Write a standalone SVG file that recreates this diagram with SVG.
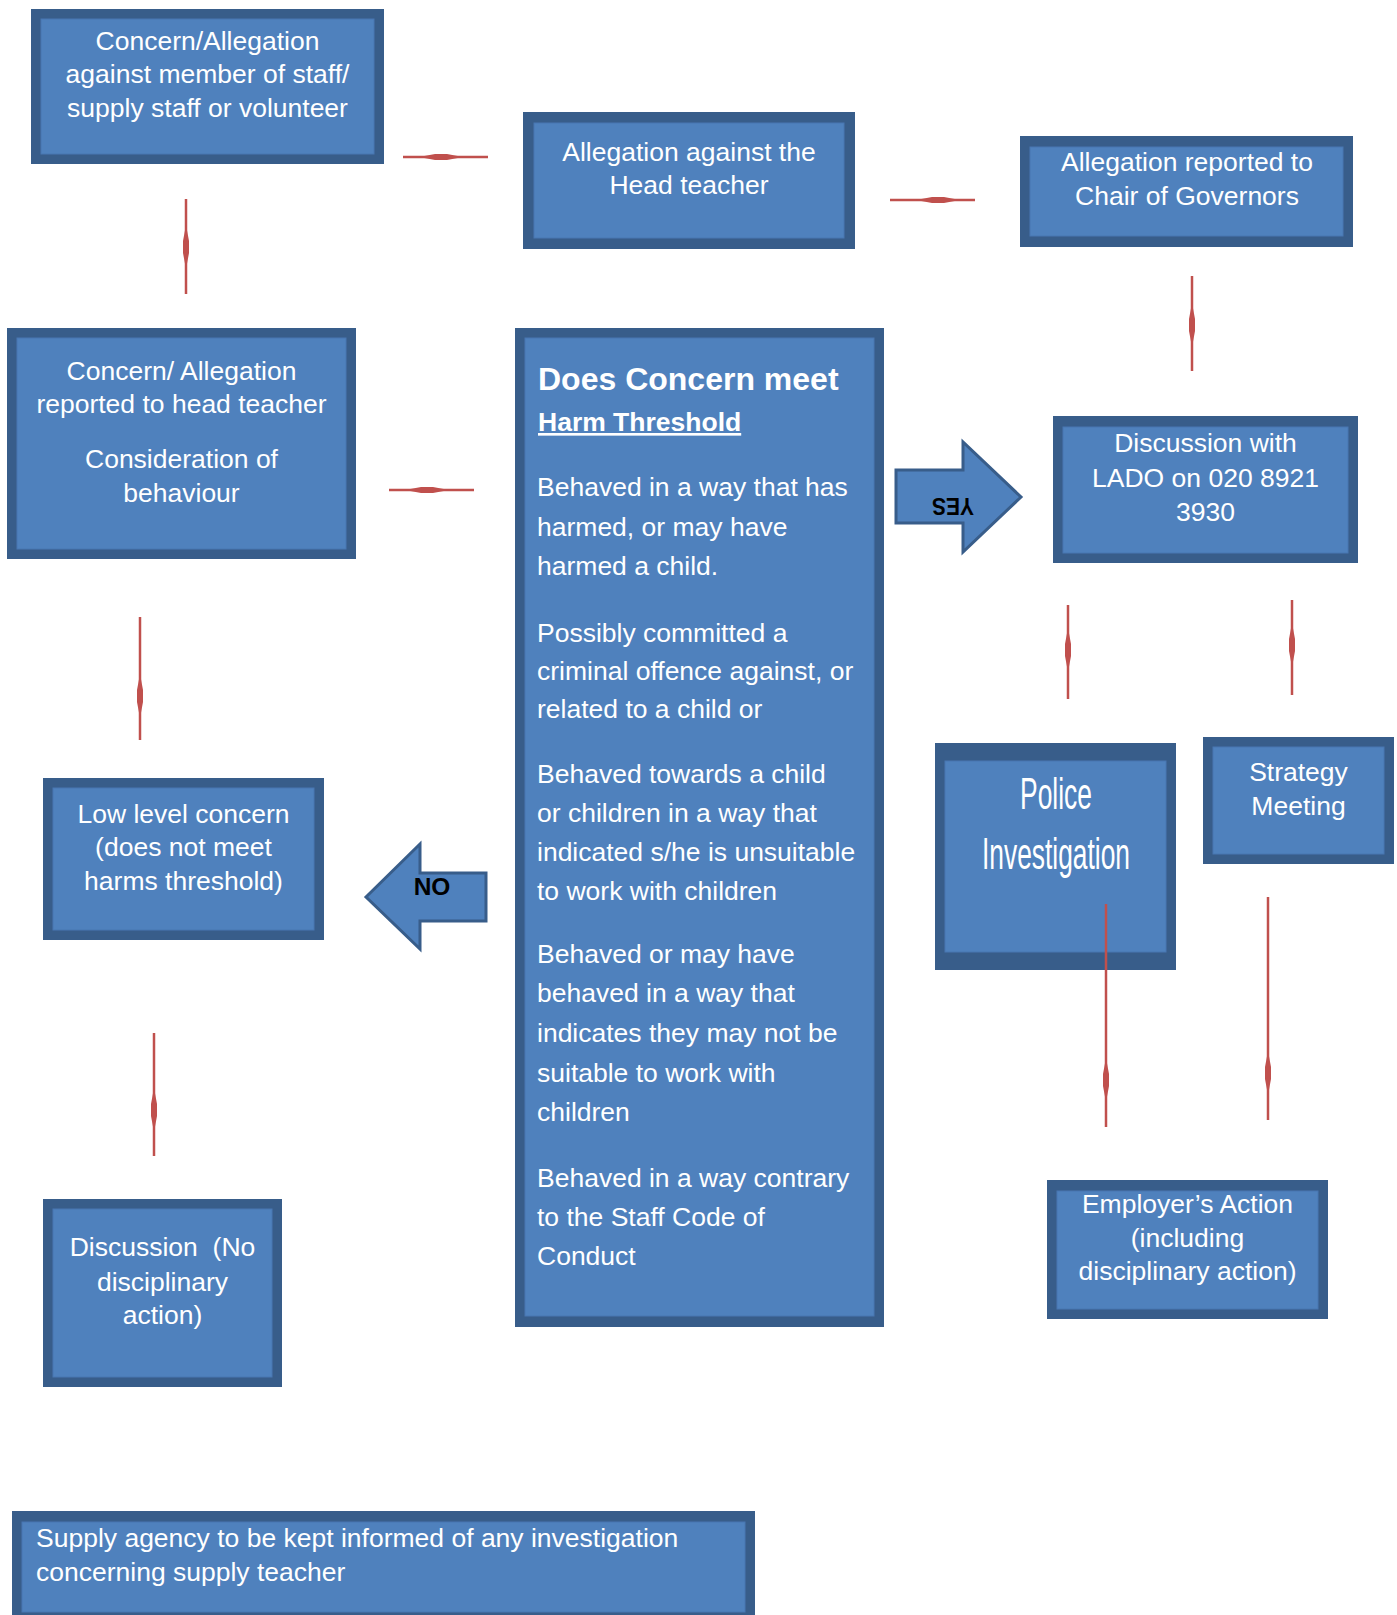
<svg xmlns="http://www.w3.org/2000/svg" width="1397" height="1615" viewBox="0 0 1397 1615">
<style>
.outer{fill:#385D8A}
.inner{fill:#4F81BD;stroke:#4877B1;stroke-width:1}
.t{font-family:"Liberation Sans",Arial,sans-serif;font-size:26.5px;fill:#FFFFFF;text-anchor:middle}
.big{font-size:45px}
.tl{font-family:"Liberation Sans",Arial,sans-serif;font-size:26.5px;fill:#FFFFFF}
.hd{font-family:"Liberation Sans",Arial,sans-serif;font-weight:bold;fill:#FFFFFF}
.lbl{font-family:"Liberation Sans",Arial,sans-serif;font-weight:bold;font-size:24.5px;fill:#000000;text-anchor:middle}
.bigarrow{fill:#4F81BD;stroke:#385D8A;stroke-width:3;stroke-linejoin:miter}
.conn{fill:none;stroke:#C0504D;stroke-width:2.5;marker-mid:url(#bulge)}
</style>
<defs>
<marker id="bulge" markerUnits="userSpaceOnUse" viewBox="-24 -5 48 10" markerWidth="48" markerHeight="10" refX="0" refY="0" orient="auto" overflow="visible">
<path d="M-22 0 L-6 -3 L6 -3 L22 0 L6 3 L-6 3 Z" fill="#C0504D"/>
</marker>
</defs>
<rect width="1397" height="1615" fill="#FFFFFF"/>

<g id="node-concern-allegation">
<rect class="outer" x="31" y="9" width="353" height="155"/>
<rect class="inner" x="41" y="19" width="333" height="135"/>
<text class="t" x="207.5" y="50">Concern/Allegation</text>
<text class="t" x="207.5" y="83">against member of staff/</text>
<text class="t" x="207.5" y="117">supply staff or volunteer</text>
</g>

<g id="node-head-teacher-allegation">
<rect class="outer" x="523" y="112" width="332" height="137"/>
<rect class="inner" x="534" y="123" width="310" height="115"/>
<text class="t" x="689" y="160.5">Allegation against the</text>
<text class="t" x="689" y="194">Head teacher</text>
</g>

<g id="node-chair-governors">
<rect class="outer" x="1020" y="136" width="333" height="111"/>
<rect class="inner" x="1030" y="147" width="313" height="89"/>
<text class="t" x="1187" y="171">Allegation reported to</text>
<text class="t" x="1187" y="205">Chair of Governors</text>
</g>

<g id="node-reported-head">
<rect class="outer" x="7" y="328" width="349" height="231"/>
<rect class="inner" x="17" y="338" width="329" height="211"/>
<text class="t" x="181.5" y="380">Concern/ Allegation</text>
<text class="t" x="181.5" y="412.5">reported to head teacher</text>
<text class="t" x="181.5" y="468">Consideration of</text>
<text class="t" x="181.5" y="502">behaviour</text>
</g>

<g id="node-harm-threshold">
<rect class="outer" x="515" y="328" width="369" height="999"/>
<rect class="inner" x="525" y="338" width="349" height="978"/>
<text class="hd" x="538" y="390" font-size="32">Does Concern meet</text>
<text class="hd" x="538" y="431" font-size="26.5" text-decoration="underline">Harm Threshold</text>
<text class="tl" x="537" y="496">Behaved in a way that has</text>
<text class="tl" x="537" y="535.5">harmed, or may have</text>
<text class="tl" x="537" y="575">harmed a child.</text>
<text class="tl" x="537" y="642">Possibly committed a</text>
<text class="tl" x="537" y="680">criminal offence against, or</text>
<text class="tl" x="537" y="718">related to a child or</text>
<text class="tl" x="537" y="783">Behaved towards a child</text>
<text class="tl" x="537" y="822">or children in a way that</text>
<text class="tl" x="537" y="861">indicated s/he is unsuitable</text>
<text class="tl" x="537" y="900">to work with children</text>
<text class="tl" x="537" y="963">Behaved or may have</text>
<text class="tl" x="537" y="1002">behaved in a way that</text>
<text class="tl" x="537" y="1042">indicates they may not be</text>
<text class="tl" x="537" y="1082">suitable to work with</text>
<text class="tl" x="537" y="1121">children</text>
<text class="tl" x="537" y="1187">Behaved in a way contrary</text>
<text class="tl" x="537" y="1226">to the Staff Code of</text>
<text class="tl" x="537" y="1265">Conduct</text>
</g>

<g id="node-yes-arrow">
<polygon class="bigarrow" points="896,470 963,470 963,442 1021,497 963,552 963,523 896,523"/>
<text class="lbl" transform="rotate(180 953 507)" x="953" y="516" textLength="42" lengthAdjust="spacingAndGlyphs">YES</text>
</g>

<g id="node-lado">
<rect class="outer" x="1053" y="416" width="305" height="147"/>
<rect class="inner" x="1063" y="427" width="285" height="126"/>
<text class="t" x="1205.5" y="452">Discussion with</text>
<text class="t" x="1205.5" y="487">LADO on 020 8921</text>
<text class="t" x="1205.5" y="521">3930</text>
</g>

<g id="node-police">
<rect class="outer" x="935" y="743" width="241" height="227"/>
<rect class="inner" x="945" y="761" width="221" height="191"/>
<text class="t big" x="1056" y="809" textLength="72" lengthAdjust="spacingAndGlyphs">Police</text>
<text class="t big" x="1056" y="869" textLength="148" lengthAdjust="spacingAndGlyphs">Investigation</text>
</g>

<g id="node-strategy">
<rect class="outer" x="1203" y="737" width="191" height="127"/>
<rect class="inner" x="1213" y="747" width="171" height="107"/>
<text class="t" x="1298.5" y="781">Strategy</text>
<text class="t" x="1298.5" y="815">Meeting</text>
</g>

<g id="node-low-level">
<rect class="outer" x="43" y="778" width="281" height="162"/>
<rect class="inner" x="53" y="788" width="261" height="142"/>
<text class="t" x="183.5" y="823">Low level concern</text>
<text class="t" x="183.5" y="856">(does not meet</text>
<text class="t" x="183.5" y="890">harms threshold)</text>
</g>

<g id="node-no-arrow">
<polygon class="bigarrow" points="366,897 420,844 420,873 486,873 486,921 420,921 420,949"/>
<text class="lbl" x="432" y="895">NO</text>
</g>

<g id="node-employer">
<rect class="outer" x="1047" y="1180" width="281" height="139"/>
<rect class="inner" x="1057" y="1191" width="261" height="118"/>
<text class="t" x="1187.5" y="1212.5">Employer’s Action</text>
<text class="t" x="1187.5" y="1246.5">(including</text>
<text class="t" x="1187.5" y="1280">disciplinary action)</text>
</g>

<g id="node-discussion">
<rect class="outer" x="43" y="1199" width="239" height="188"/>
<rect class="inner" x="53" y="1209" width="219" height="168"/>
<text class="t" x="162.5" y="1256" xml:space="preserve">Discussion  (No</text>
<text class="t" x="162.5" y="1291">disciplinary</text>
<text class="t" x="162.5" y="1324">action)</text>
</g>

<g id="node-supply">
<rect class="outer" x="12" y="1511" width="743" height="110"/>
<rect class="inner" x="22" y="1522" width="723" height="90"/>
<text class="tl" x="36" y="1547">Supply agency to be kept informed of any investigation</text>
<text class="tl" x="36" y="1581">concerning supply teacher</text>
</g>

<g id="connectors">
<path class="conn" d="M403 157 L441 157 L488 157"/>
<path class="conn" d="M890 200 L938 200 L975 200"/>
<path class="conn" d="M1192 276 L1192 325 L1192 371"/>
<path class="conn" d="M186 199 L186 247 L186 294"/>
<path class="conn" d="M389 490 L427 490 L474 490"/>
<path class="conn" d="M1068 605 L1068 650 L1068 699"/>
<path class="conn" d="M1292 600 L1292 645 L1292 695"/>
<path class="conn" d="M140 617 L140 696 L140 740"/>
<path class="conn" d="M154 1033 L154 1110 L154 1156"/>
<path class="conn" d="M1106 904 L1106 1080 L1106 1127"/>
<path class="conn" d="M1268 897 L1268 1073 L1268 1120"/>
</g>
</svg>
